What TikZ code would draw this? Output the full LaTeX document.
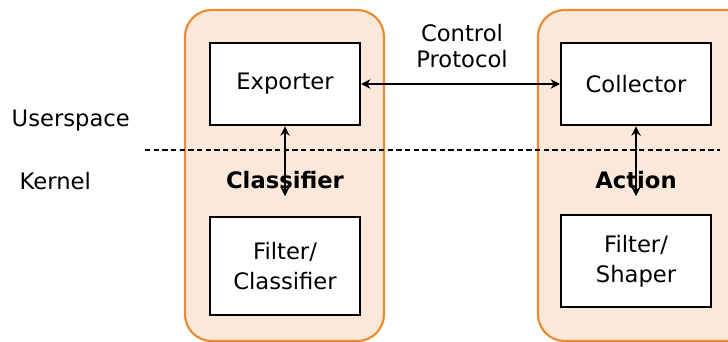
\documentclass[tikz,border=0pt]{standalone}
\usepackage{fontspec}
\setmainfont{DejaVu Sans}
\usepackage{xcolor}
\usepackage{tikz}
\usetikzlibrary{arrows.meta}

\definecolor{peach}{HTML}{FAE8DB}
\definecolor{edgeorange}{HTML}{EC8A2C}

\begin{document}
\begin{tikzpicture}[x=0.75pt, y=-0.75pt,
  holder/.style={draw=edgeorange, fill=peach, line width=1.6pt, rounded corners=20pt},
  unit/.style={draw=black, fill=white, line width=1.5pt, minimum width=112.5pt, minimum height=62pt, align=center, font=\fontsize{17}{22.5}\selectfont},
  tag/.style={font=\fontsize{17}{20}\selectfont},
  link/.style={line width=1.3pt, {Stealth[length=7pt,width=7pt]}-{Stealth[length=7pt,width=7pt]}}]
\useasboundingbox (0,0) rectangle (728,342);
\clip (0,0) rectangle (728,342);

% Column positions
\def\cola{285}
\def\colb{636}

% Containers (right one runs off the page)
\draw[holder] (185,10) rectangle (384,341);
\draw[holder] (538,10) rectangle (760,341);

% Userspace / kernel split
\draw[dash pattern=on 4pt off 2.5pt, line width=0.8pt] (145,150) -- (720,150);
\node[tag, anchor=west] (user) at (7,121) {Userspace};
\node[tag, anchor=west] (kern) at (15,181) {Kernel};

% Boxes
\node[unit] (exp) at (\cola,84) {Exporter};
\node[unit, minimum height=73.5pt] (fcl) at (\cola,266) {Filter/\\Classifier};
\node[unit] (col) at (\colb,84) {Collector};
\node[unit, minimum height=69pt] (fsh) at (\colb,261) {Filter/\\Shaper};

% Bold labels in the kernel half
\node[tag, font=\bfseries\fontsize{17}{20}\selectfont] (cls) at (\cola,180) {Classifier};
\node[tag, font=\bfseries\fontsize{17}{20}\selectfont] (act) at (\colb,180) {Action};

% Arrows
\draw[link] (exp) -- (col);
\draw[link] (exp.south) -- ([yshift=-2pt]cls.south);
\draw[link] (col.south) -- ([yshift=-2pt]act.south);
\node[tag, align=center, font=\fontsize{17}{20}\selectfont] (ctl) at (462,46) {Control\\Protocol};
\end{tikzpicture}
\end{document}
